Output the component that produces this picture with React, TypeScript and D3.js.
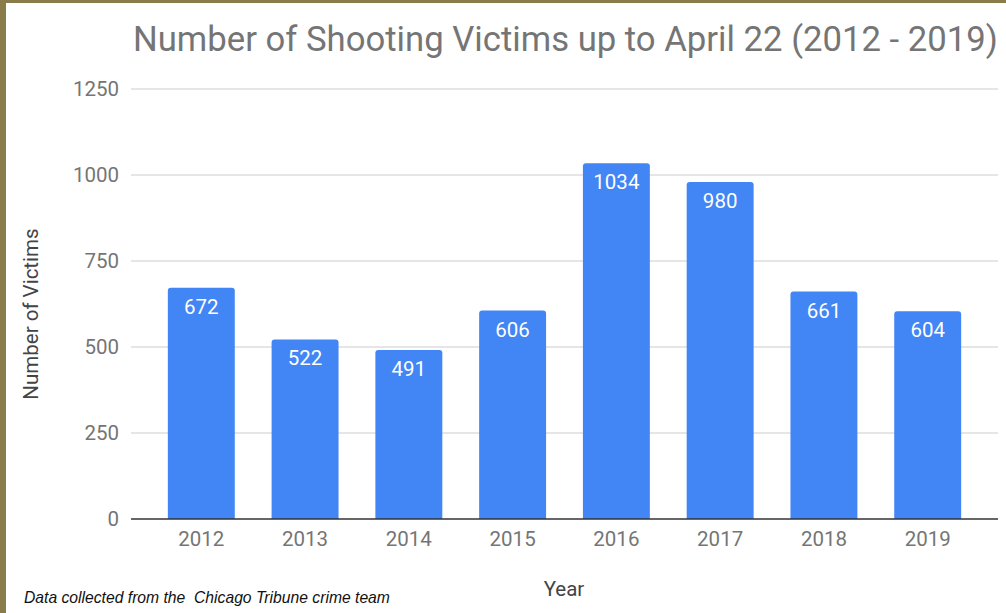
import React, { useEffect, useRef } from "react";
import * as d3 from "d3";

const years: string[] = ["2012", "2013", "2014", "2015", "2016", "2017", "2018", "2019"];
const victims: number[] = [672, 522, 491, 606, 1034, 980, 661, 604];
const yTicks: number[] = [0, 250, 500, 750, 1000, 1250];

const W = 1006;
const H = 613;
const M = { left: 131, right: 998, top: 89, bottom: 519 };

export default function App() {
  const ref = useRef<SVGSVGElement>(null);

  useEffect(() => {
    const svg = d3.select(ref.current);
    svg.selectAll("*").remove();

    // background + border
    svg.append("rect").attr("width", W).attr("height", H).attr("fill", "#8a7b4b");
    svg.append("rect").attr("x", 6).attr("y", 3).attr("width", W - 6).attr("height", H - 3).attr("fill", "#ffffff");

    const x = d3.scaleBand<string>().domain(years).range([M.left, M.right]).paddingInner(0.355).paddingOuter(0.355);
    const y = d3.scaleLinear().domain([0, 1250]).range([M.bottom, M.top]);

    const font = "Roboto, 'Noto Sans', sans-serif";

    // gridlines
    svg.append("g")
      .selectAll("line")
      .data(yTicks.filter((t) => t > 0))
      .join("line")
      .attr("x1", M.left)
      .attr("x2", M.right)
      .attr("y1", (d) => y(d))
      .attr("y2", (d) => y(d))
      .attr("stroke", "#cccccc")
      .attr("stroke-width", 1);

    // y tick labels
    svg.append("g")
      .selectAll("text")
      .data(yTicks)
      .join("text")
      .attr("x", M.left - 12)
      .attr("y", (d) => y(d))
      .attr("dy", "0.36em")
      .attr("text-anchor", "end")
      .attr("font-family", font)
      .attr("font-size", 20.5)
      .attr("fill", "#757575")
      .text((d) => String(d));

    // bars
    svg.append("g")
      .selectAll("path")
      .data(years)
      .join("path")
      .attr("d", (d, i) => {
        const x0 = x(d)!;
        const w = x.bandwidth();
        const y0 = y(victims[i]);
        const y1 = y(0);
        const r = 3;
        return `M${x0},${y1}V${y0 + r}Q${x0},${y0} ${x0 + r},${y0}H${x0 + w - r}Q${x0 + w},${y0} ${x0 + w},${y0 + r}V${y1}Z`;
      })
      .attr("fill", "#4285f4");

    // value labels
    svg.append("g")
      .selectAll("text")
      .data(years)
      .join("text")
      .attr("x", (d) => x(d)! + x.bandwidth() / 2)
      .attr("y", (d, i) => y(victims[i]) + 26)
      .attr("text-anchor", "middle")
      .attr("font-family", font)
      .attr("font-size", 20.5)
      .attr("fill", "#ffffff")
      .text((d, i) => String(victims[i]));

    // zero line
    svg.append("line")
      .attr("x1", M.left)
      .attr("x2", M.right)
      .attr("y1", y(0))
      .attr("y2", y(0))
      .attr("stroke", "#333333")
      .attr("stroke-width", 1.5);

    // x labels
    svg.append("g")
      .selectAll("text")
      .data(years)
      .join("text")
      .attr("x", (d) => x(d)! + x.bandwidth() / 2)
      .attr("y", 546)
      .attr("text-anchor", "middle")
      .attr("font-family", font)
      .attr("font-size", 20.5)
      .attr("fill", "#757575")
      .text((d) => d);

    // title
    svg.append("text")
      .attr("x", 133)
      .attr("y", 51)
      .attr("font-family", font)
      .attr("font-size", 34.7)
      .attr("fill", "#757575")
      .text("Number of Shooting Victims up to April 22 (2012 - 2019)");

    // y axis title
    svg.append("text")
      .attr("transform", `translate(38,314) rotate(-90)`)
      .attr("text-anchor", "middle")
      .attr("font-family", font)
      .attr("font-size", 20.5)
      .attr("fill", "#444444")
      .text("Number of Victims");

    // x axis title
    svg.append("text")
      .attr("x", 564)
      .attr("y", 596)
      .attr("text-anchor", "middle")
      .attr("font-family", font)
      .attr("font-size", 20.5)
      .attr("fill", "#444444")
      .text("Year");

    // footer note
    svg.append("text")
      .attr("x", 24)
      .attr("y", 603)
      .attr("font-family", "'Liberation Sans', Arial, sans-serif")
      .attr("font-style", "italic")
      .attr("font-size", 15.7)
      .attr("fill", "#111111")
      .style("white-space", "pre")
      .text("Data collected from the  Chicago Tribune crime team");
  }, []);

  return (
    <div style={{ position: "fixed", left: 0, top: 0, width: W, height: H }}>
      <svg ref={ref} width={W} height={H} style={{ display: "block" }} />
    </div>
  );
}
